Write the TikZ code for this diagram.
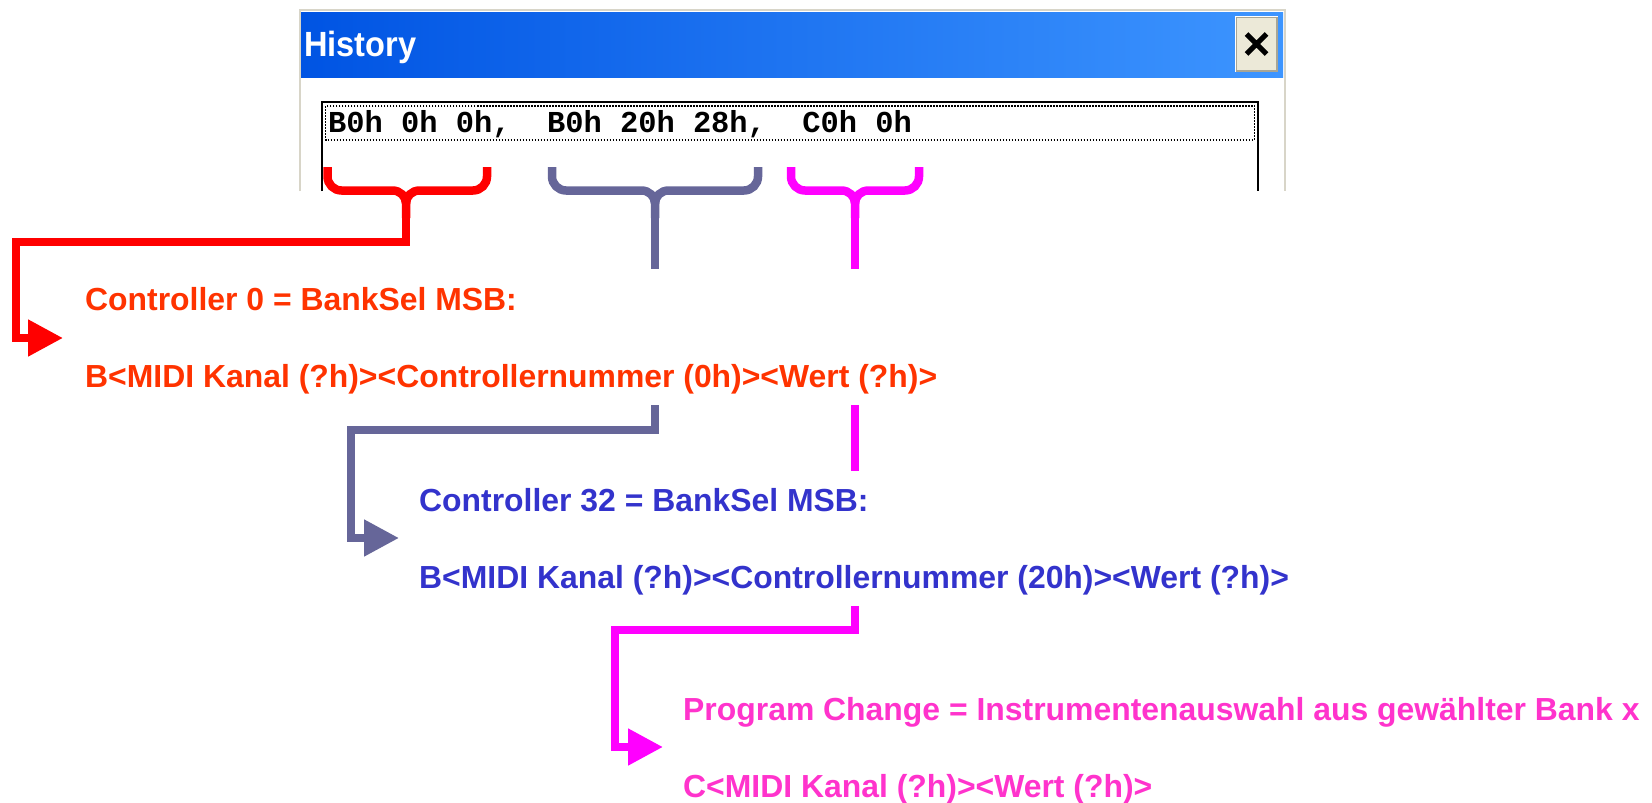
\documentclass[tikz,border=0pt]{standalone}
\usepackage{fontspec}
\setmainfont{Liberation Sans}
\newfontfamily\histmono{Liberation Mono}
\usetikzlibrary{arrows.meta,calc}

\definecolor{ctlRed}{HTML}{FF0000}
\definecolor{txtRed}{HTML}{FF3300}
\definecolor{ctlGray}{HTML}{666699}
\definecolor{txtBlue}{HTML}{3333CC}
\definecolor{ctlMag}{HTML}{FF00FF}
\definecolor{txtPink}{HTML}{FF33CC}
\definecolor{barL}{HTML}{0054E3}
\definecolor{barR}{HTML}{3D95FF}
\definecolor{xpBeige}{HTML}{ECE9D8}
\definecolor{xpEdge}{HTML}{D8D5C8}
\definecolor{xpShadow}{HTML}{A8A595}

% curly brace opening downwards: left x, right x, centre x
\newcommand{\downbrace}[4]{%
  \draw[#1, bracepath] (#2,167) -- (#2,176.5)
     .. controls (#2,184.2) and ({#2+6.3},190.5) .. ({#2+14},190.5)
     -- ({#4-13.5},190.5) .. controls ({#4-6},190.5) and (#4,196.3) .. (#4,203.5) -- (#4,218);
  \draw[#1, bracepath] (#3,167) -- (#3,176.5)
     .. controls (#3,184.2) and ({#3-6.3},190.5) .. ({#3-14},190.5)
     -- ({#4+13.5},190.5) .. controls ({#4+6},190.5) and (#4,196.3) .. (#4,203.5);}

\begin{document}
\begin{tikzpicture}[x=1pt,y=-1pt,
  msgtext/.style={anchor=base west, inner sep=0pt,
    font=\bfseries\fontsize{31.9}{38}\selectfont},
  link/.style={line width=8pt, -{Triangle[length=35pt,width=35pt]}},
  stub/.style={line width=8pt},
  bracepath/.style={line width=8.5pt}]

\useasboundingbox (0,0) rectangle (1652,803);

% ---- History window ----
\fill[white] (300,10) rectangle (1286,191);
\shade[left color=barL, right color=barR] (300,12) rectangle (1283,77);
\draw[xpEdge, line width=2pt] (300,191) -- (300,10) -- (1285,10) -- (1285,191);
\node[anchor=base west, inner sep=0pt, text=white,
      font=\bfseries\fontsize{35}{40}\selectfont] (title) at (304,56)
      {\scalebox{0.93}[1]{History}};

% close button
\node[draw=xpShadow, fill=xpBeige, line width=1.5pt, minimum width=41pt,
      minimum height=54pt, inner sep=0pt] (closebtn) at (1256.5,44) {};
\draw[white, line width=1.5pt] (closebtn.south west) -- (closebtn.north west) -- (closebtn.north east);
\draw[black, line width=5pt] ($(closebtn.center)+(-10,-10)$) -- ($(closebtn.center)+(10,10)$)
      ($(closebtn.center)+(-10,10)$) -- ($(closebtn.center)+(10,-10)$);

% list box
\draw[black, line width=2.2pt] (322,191) -- (322,102) -- (1258,102) -- (1258,191);
\draw[black, line width=1.4pt, dash pattern=on 1.5pt off 1.5pt]
      (325.5,106) rectangle (1254.5,140);
\node[anchor=base west, inner sep=0pt,
      font=\histmono\bfseries\fontsize{30.4}{36}\selectfont] (hist) at (328,132)
      {B0h 0h 0h,~~B0h 20h 28h,~~C0h 0h};

% ---- descriptions ----
\node[msgtext, text=txtRed]  (cc0)  at (85,310)  {Controller 0 = BankSel MSB:};
\node[msgtext, text=txtRed]  (cc0f) at (85,387)  {B<MIDI Kanal (?h)><Controllernummer (0h)><Wert (?h)>};
\node[msgtext, text=txtBlue] (cc32) at (419,511) {Controller 32 = BankSel MSB:};
\node[msgtext, text=txtBlue] (cc32f) at (419,588) {B<MIDI Kanal (?h)><Controllernummer (20h)><Wert (?h)>};
\node[msgtext, text=txtPink] (pc)   at (683,720) {Program Change = Instrumentenauswahl aus gewählter Bank x};
\node[msgtext, text=txtPink] (pcf)  at (683,797) {C<MIDI Kanal (?h)><Wert (?h)>};

% ---- braces under the three messages ----
\coordinate (rTip) at (406,218);
\coordinate (gTip) at (655,218);
\coordinate (mTip) at (855,218);
\downbrace{ctlRed}{327.5}{487}{406}
\downbrace{ctlGray}{552}{758}{655}
\downbrace{ctlMag}{791}{919}{855}

% ---- connectors ----
\coordinate (rEnd) at (63,338);
\draw[ctlRed, link] (rTip) |- (16,242) |- (rEnd);

\coordinate (gStubEnd) at (655,269);
\coordinate (gStart) at (655,405);
\coordinate (gEnd) at (399,538);
\draw[ctlGray, stub] (gTip) -- (gStubEnd);
\draw[ctlGray, link] (gStart) |- (351,430) |- (gEnd);

\coordinate (mStubEnd) at (855,269);
\coordinate (mMidA) at (855,405);
\coordinate (mMidB) at (855,471);
\coordinate (mStart) at (855,606);
\coordinate (mEnd) at (663,747);
\draw[ctlMag, stub] (mTip) -- (mStubEnd);
\draw[ctlMag, stub] (mMidA) -- (mMidB);
\draw[ctlMag, link] (mStart) |- (615,630) |- (mEnd);

\end{tikzpicture}
\end{document}
